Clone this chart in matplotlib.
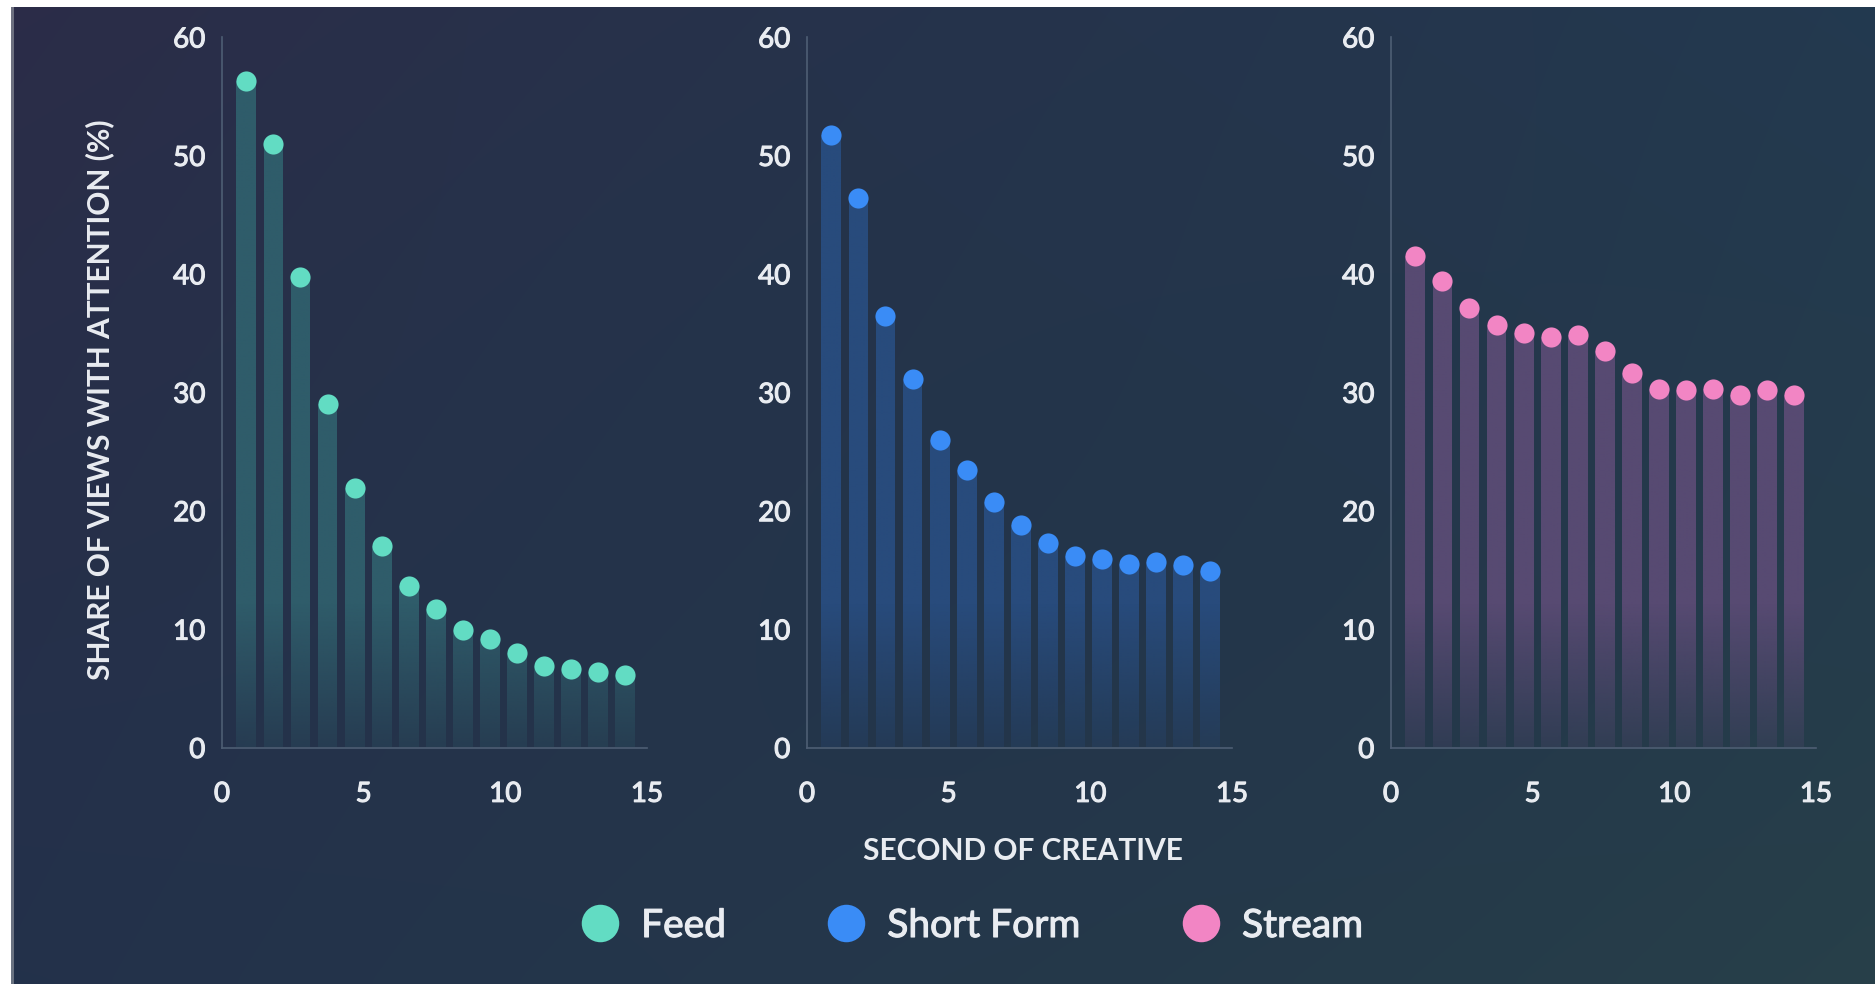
import numpy as np
import matplotlib
matplotlib.use("Agg")
import matplotlib.pyplot as plt
import matplotlib.colors as mcolors
import matplotlib.patheffects as pe
from matplotlib.path import Path
from matplotlib.patches import PathPatch, Rectangle
from matplotlib.lines import Line2D

# ---- data -------------------------------------------------------------
seconds = np.arange(1, 16)
feed = [56.3, 51.0, 39.7, 29.0, 21.9, 17.0, 13.6, 11.7, 9.9, 9.2, 8.0, 6.9, 6.6, 6.4, 6.1]
short_form = [51.7, 46.4, 36.4, 31.1, 26.0, 23.4, 20.7, 18.8, 17.3, 16.2, 15.9, 15.5, 15.7, 15.4, 14.9]
stream = [41.5, 39.4, 37.1, 35.7, 35.0, 34.7, 34.8, 33.5, 31.6, 30.3, 30.2, 30.3, 29.8, 30.2, 29.8]
series_names = ["Feed", "Short Form", "Stream"]
y_ticks = [0, 10, 20, 30, 40, 50, 60]
x_ticks = [0, 5, 10, 15]
y_label = "SHARE OF VIEWS WITH ATTENTION (%)"
x_label = "SECOND OF CREATIVE"

# ---- styling ----------------------------------------------------------
dot_colors = ["#62dcc3", "#3a8cf6", "#f285c4"]
bar_colors = ["#2f5c6a", "#284b7c", "#574a72"]
text_color = "#e9ecf1"
axis_color = "#4e5e74"
FONT = "Lato"
thicken = [pe.withStroke(linewidth=0.8, foreground=text_color)]

W, H = 1875, 984
fig = plt.figure(figsize=(W / 100, H / 100), dpi=100)

# background: soft four-corner gradient
bg = fig.add_axes([0, 0, 1, 1], zorder=0)
bg.set_axis_off()
tl = np.array(mcolors.to_rgb("#2c2c48"))
tr = np.array(mcolors.to_rgb("#233a50"))
bl = np.array(mcolors.to_rgb("#23314b"))
br = np.array(mcolors.to_rgb("#284149"))
u = np.linspace(0, 1, 200)[None, :, None]
v = np.linspace(0, 1, 120)[:, None, None]
grad = (1 - v) * ((1 - u) * tl + u * tr) + v * ((1 - u) * bl + u * br)
# pull the middle toward a deeper navy
mid = np.array(mcolors.to_rgb("#21334a"))
cx = np.exp(-(((u - 0.55) / 0.45) ** 2 + ((v - 0.5) / 0.6) ** 2))
grad = grad * (1 - 0.5 * cx) + mid * 0.5 * cx
bg.imshow(grad, extent=(0, 1, 0, 1), aspect="auto", origin="upper",
          interpolation="bicubic")
bg.set_xlim(0, 1)
bg.set_ylim(0, 1)

# white page margin at the top and left, with a faint shadow
fig.patches.append(Rectangle((0, 1 - 7 / H), 1, 7 / H, transform=fig.transFigure,
                             facecolor="white", edgecolor="none", zorder=5))
fig.patches.append(Rectangle((0, 0), 11 / W, 1, transform=fig.transFigure,
                             facecolor="white", edgecolor="none", zorder=5))
fig.patches.append(Rectangle((11 / W, 0), 3 / W, 1 - 7 / H, transform=fig.transFigure,
                             facecolor="#9a9ea6", edgecolor="none", alpha=0.6, zorder=5))

# bar positions inside each 0-15 axis
BAR_START, BAR_STEP, BAR_WIDTH = 0.86, 0.955, 0.70
xpos = BAR_START + BAR_STEP * (seconds - 1)

lefts = [222 / W, 807 / W, 1391 / W]
ax_w = 425 / W
ax_b = 1 - 747.5 / H
ax_h = (747.5 - 37) / H


def gradient_bars(ax, x, heights, color):
    rects = ax.bar(x, heights, width=BAR_WIDTH, color="none", edgecolor="none")
    paths = [r.get_path().transformed(r.get_patch_transform()) for r in rects]
    compound = Path.make_compound_path(*paths)
    rgb = mcolors.to_rgb(color)
    ys = np.linspace(0, 60, 400)
    alpha = np.clip(0.25 + 0.75 * ys / 12.0, 0, 1)
    img = np.zeros((len(ys), 1, 4))
    img[..., :3] = rgb
    img[..., 3] = alpha[:, None]
    im = ax.imshow(img, extent=(0, 15, 0, 60), origin="lower", aspect="auto",
                   interpolation="bilinear", zorder=2)
    im.set_clip_path(PathPatch(compound, transform=ax.transData))


for i, (vals, dc, bc) in enumerate(zip([feed, short_form, stream], dot_colors, bar_colors)):
    ax = fig.add_axes([lefts[i], ax_b, ax_w, ax_h], zorder=2)
    ax.set_facecolor("none")
    gradient_bars(ax, xpos, vals, bc)
    ax.plot(xpos, vals, "o", ms=14.5, color=dc, mec="none", zorder=3, clip_on=False)
    ax.set_xlim(0, 15)
    ax.set_ylim(0, 60)
    ax.set_xticks(x_ticks)
    ax.set_yticks(y_ticks)
    ax.set_xticklabels([str(t) for t in x_ticks], fontfamily=FONT,
                       fontsize=20, color=text_color)
    ax.set_yticklabels([str(t) for t in y_ticks], fontfamily=FONT,
                       fontsize=20, color=text_color)
    for lab in ax.get_xticklabels() + ax.get_yticklabels():
        lab.set_path_effects(thicken)
    ax.tick_params(axis="x", length=0, pad=24)
    ax.tick_params(axis="y", length=0, pad=12)
    for s in ["top", "right"]:
        ax.spines[s].set_visible(False)
    for s in ["left", "bottom"]:
        ax.spines[s].set_color(axis_color)
        ax.spines[s].set_linewidth(1.2)

fig.text(100 / W, 1 - 400 / H, y_label, rotation=90, ha="center", va="center",
         fontfamily=FONT, fontweight="bold", fontsize=21.5, color=text_color)
fig.text(1023 / W, 1 - 851 / H, x_label, ha="center", va="center",
         fontfamily=FONT, fontweight="bold", fontsize=21.5, color=text_color)

handles = [Line2D([], [], marker="o", linestyle="none", markersize=27, color=c, mec="none")
           for c in dot_colors]
leg = fig.legend(handles, series_names, loc="center", bbox_to_anchor=(972 / W, 1 - 926 / H),
                 ncol=3, frameon=False, handlelength=1.0, handletextpad=0.55,
                 columnspacing=2.6, prop={"family": FONT, "size": 28})
for t in leg.get_texts():
    t.set_color(text_color)
    t.set_path_effects(thicken)

fig.savefig("out.png", dpi=100)
